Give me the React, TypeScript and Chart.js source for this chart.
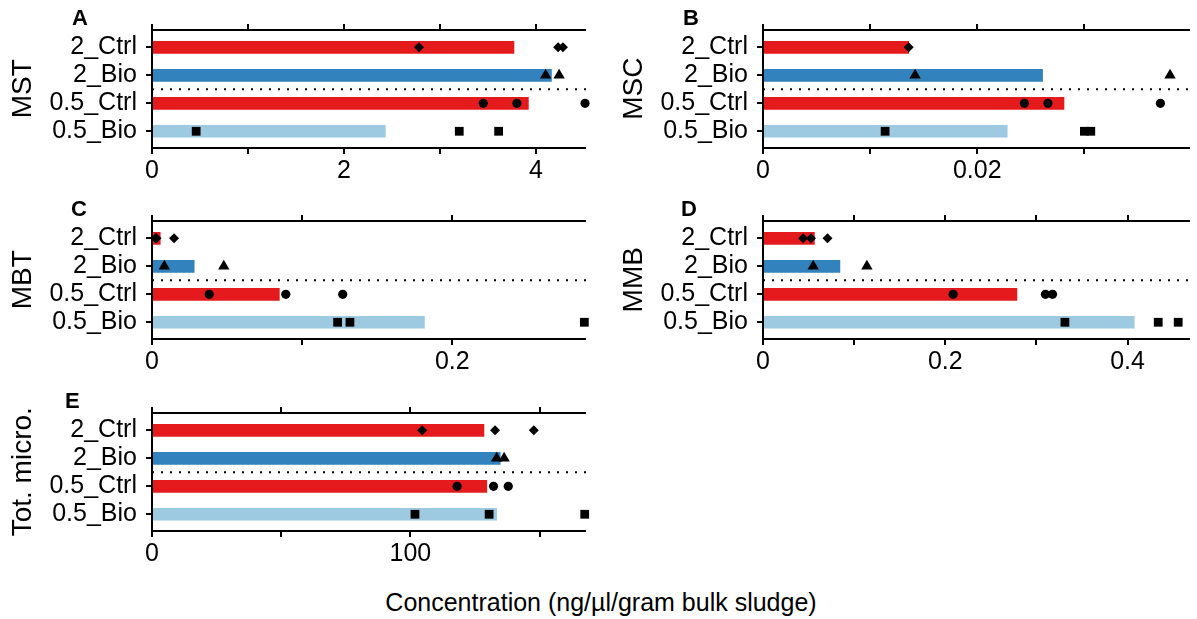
import React, { useEffect, useRef } from 'react';
import { Chart, registerables } from 'chart.js';

Chart.register(...registerables);
Chart.defaults.font.family = '"Liberation Sans", Arial, Helvetica, sans-serif';
Chart.defaults.color = '#000';

// ---------- data ----------
const CATEGORIES = ['0.5_Bio', '0.5_Ctrl', '2_Bio', '2_Ctrl'];
const CAT_POS = [1, 2, 3, 4];
const DIVIDER_Y = 2.5;

const PANEL_TAGS = ['A', 'B', 'C', 'D', 'E'];
const COMPOUNDS = ['MST', 'MSC', 'MBT', 'MMB', 'Tot. micro.'];

// bar heights (means), order follows CATEGORIES
const MST_MEANS = [2.43, 3.92, 4.16, 3.77];
const MSC_MEANS = [0.0228, 0.0281, 0.0261, 0.0136];
const MBT_MEANS = [0.1814, 0.0848, 0.0281, 0.0055];
const MMB_MEANS = [0.4074, 0.2786, 0.0844, 0.0564];
const TOT_MEANS = [133.4, 129.6, 134.8, 128.5];

// replicate points, order follows CATEGORIES
const MST_REPS = [[0.46, 3.2, 3.61], [3.45, 3.8, 4.51], [4.1, 4.24], [2.78, 4.23, 4.28]];
const MSC_REPS = [[0.0114, 0.03, 0.0306], [0.0244, 0.0266, 0.0371], [0.0142, 0.038], [0.0136]];
const MBT_REPS = [[0.1236, 0.1318, 0.2879], [0.0381, 0.0891, 0.127], [0.0082, 0.0478], [0.0025, 0.003, 0.0147]];
const MMB_REPS = [[0.3313, 0.4337, 0.4556], [0.2086, 0.3099, 0.3177], [0.0551, 0.114], [0.044, 0.0527, 0.0708]];
const TOT_REPS = [[101.8, 130.5, 167.5], [118.1, 132.2, 137.9], [133.4, 136.3], [104.6, 132.8, 147.8]];

const MEANS = [MST_MEANS, MSC_MEANS, MBT_MEANS, MMB_MEANS, TOT_MEANS];
const REPS = [MST_REPS, MSC_REPS, MBT_REPS, MMB_REPS, TOT_REPS];

// axes
const X_MAX = [4.52, 0.0399, 0.289, 0.469, 168];
const X_STEP = [1, 0.01, 0.1, 0.1, 50];
const X_LABELS = [[0, 2, 4], [0, 0.02], [0, 0.2], [0, 0.2, 0.4], [0, 100]];
const Y_MIN = 0.42;
const Y_MAX = 4.62;

// ---------- style ----------
const BAR_COLORS = ['#9ECAE1', '#E41A1C', '#3182BD', '#E41A1C'];
const POINT_STYLES = ['rect', 'circle', 'triangle', 'rectRot'];
const POINT_RADII = [6.2, 4.6, 6.6, 5];

const PANEL_LEFT = [0, 611, 0, 611, 0];
const PANEL_TOP = [0, 0, 191, 191, 383];
const PANEL_W = [600, 586, 600, 586, 600];
const PANEL_H = 190;
const AXIS_W = 152;
const H_TOP = 29;
const H_BOTTOM = 42.5;
const PLOT_W = 434;
const TICK_LEN = 6;
const LINE_W = 2;

const TAG_POS = [
  [72, 7], [683, 7], [71, 198], [681, 198], [65, 390],
];

// axis frame: top / bottom / left lines and tick marks, placed from the chart's scales
const axisFramePlugin = {
  id: 'axisFrame',
  afterDraw(chart: any) {
    const { ctx, chartArea: ca, scales } = chart;
    const xs = scales.x;
    const ys = scales.y;
    const yt = Math.round(ca.top);
    const yb = Math.round(ca.bottom);
    const xl = Math.round(ca.left);
    const xr = Math.round(ca.right);
    const h = LINE_W / 2;
    ctx.save();
    ctx.fillStyle = '#000';
    ctx.fillRect(xl - h, yt - h, xr - xl + h, LINE_W);
    ctx.fillRect(xl - h, yb - h, xr - xl + h, LINE_W);
    ctx.fillRect(xl - h, yt - h, LINE_W, yb - yt + LINE_W);
    xs.ticks.forEach((t: any) => {
      const px = Math.round(xs.getPixelForValue(t.value));
      ctx.fillRect(px - h, yt - TICK_LEN, LINE_W, TICK_LEN);
      ctx.fillRect(px - h, yb, LINE_W, TICK_LEN);
    });
    ys.ticks.forEach((t: any) => {
      const py = Math.round(ys.getPixelForValue(t.value));
      ctx.fillRect(xl - TICK_LEN, py - h, TICK_LEN, LINE_W);
    });
    ctx.restore();
  },
};

const noGrid = () => ({ display: false, drawOnChartArea: false, drawTicks: false, offset: false });
const noBorder = () => ({ display: false });

function buildConfig(i: number): any {
  const means = MEANS[i];
  const reps = REPS[i];
  const xmax = X_MAX[i];
  const step = X_STEP[i];
  const labels = X_LABELS[i];
  const datasets: any[] = [
    {
      type: 'bar',
      indexAxis: 'y',
      data: CAT_POS.map((p, k) => ({ x: means[k], y: p })),
      backgroundColor: BAR_COLORS,
      borderWidth: 0,
      barThickness: 12,
      xAxisID: 'x',
      yAxisID: 'y',
      order: 3,
    },
    {
      type: 'line',
      data: [{ x: 0, y: DIVIDER_Y }, { x: xmax, y: DIVIDER_Y }],
      borderColor: '#000',
      borderWidth: 2,
      borderDash: [2, 7],
      pointRadius: 0,
      fill: false,
      xAxisID: 'x',
      yAxisID: 'y',
      order: 2,
    },
  ];
  CAT_POS.forEach((p, k) => {
    datasets.push({
      type: 'scatter',
      data: reps[k].map((v) => ({ x: v, y: p })),
      pointStyle: POINT_STYLES[k],
      pointRadius: POINT_RADII[k],
      backgroundColor: '#000',
      borderColor: '#000',
      borderWidth: 0,
      clip: false,
      xAxisID: 'x',
      yAxisID: 'y',
      order: 0,
    });
  });

  return {
    type: 'scatter',
    data: { datasets },
    plugins: [axisFramePlugin],
    options: {
      animation: false,
      responsive: false,
      maintainAspectRatio: false,
      events: [],
      layout: { padding: { left: 0, top: H_TOP, bottom: 0, right: PANEL_W[i] - AXIS_W - PLOT_W } },
      plugins: { legend: { display: false }, tooltip: { enabled: false } },
      scales: {
        x: {
          type: 'linear',
          axis: 'x',
          position: 'bottom',
          offset: false,
          min: 0,
          max: xmax,
          grid: noGrid(),
          border: noBorder(),
          ticks: {
            stepSize: step,
            includeBounds: false,
            autoSkip: false,
            maxRotation: 0,
            padding: 3 + TICK_LEN,
            color: '#000',
            font: { size: 25 },
            callback: (v: number) => {
              const hit = labels.find((t) => Math.abs(t - v) < step * 1e-6);
              return hit === undefined ? '' : String(hit);
            },
          },
          afterFit: (s: any) => { s.height = H_BOTTOM; },
        },
        y: {
          type: 'linear',
          axis: 'y',
          position: 'left',
          offset: false,
          min: Y_MIN,
          max: Y_MAX,
          grid: noGrid(),
          border: noBorder(),
          ticks: {
            stepSize: 1,
            includeBounds: false,
            autoSkip: false,
            padding: 9 + TICK_LEN,
            color: '#000',
            font: { size: 25 },
            callback: (v: number) => {
              const k = CAT_POS.indexOf(Math.round(v));
              return k < 0 ? '' : CATEGORIES[k];
            },
          },
          title: {
            display: true,
            text: COMPOUNDS[i],
            color: '#000',
            font: { size: 28 },
            padding: { top: 6, bottom: 0 },
          },
          afterFit: (s: any) => { s.width = AXIS_W; },
        },
      },
    },
  };
}

function Panel({ idx }: { idx: number }) {
  const ref = useRef<HTMLCanvasElement | null>(null);
  useEffect(() => {
    if (!ref.current) return;
    const chart = new Chart(ref.current, buildConfig(idx));
    return () => chart.destroy();
  }, [idx]);
  return (
    <canvas
      ref={ref}
      width={PANEL_W[idx]}
      height={PANEL_H}
      style={{
        position: 'absolute',
        left: PANEL_LEFT[idx],
        top: PANEL_TOP[idx],
        width: PANEL_W[idx],
        height: PANEL_H,
        display: 'block',
      }}
    />
  );
}

export default function App() {
  return (
    <div
      style={{
        position: 'absolute',
        left: 0,
        top: 0,
        width: 1197,
        height: 619,
        background: '#fff',
        overflow: 'hidden',
        fontFamily: '"Liberation Sans", Arial, Helvetica, sans-serif',
      }}
    >
      {PANEL_TAGS.map((_, i) => (
        <Panel key={i} idx={i} />
      ))}
      {PANEL_TAGS.map((t, i) => (
        <div
          key={'tag' + i}
          style={{
            position: 'absolute',
            left: TAG_POS[i][0],
            top: TAG_POS[i][1],
            fontSize: 22,
            lineHeight: '22px',
            fontWeight: 'bold',
            color: '#000',
          }}
        >
          {t}
        </div>
      ))}
      <div
        style={{
          position: 'absolute',
          left: 601,
          top: 587,
          transform: 'translateX(-50%)',
          fontSize: 25,
          lineHeight: '30px',
          whiteSpace: 'nowrap',
          color: '#000',
        }}
      >
        Concentration (ng/µl/gram bulk sludge)
      </div>
    </div>
  );
}
